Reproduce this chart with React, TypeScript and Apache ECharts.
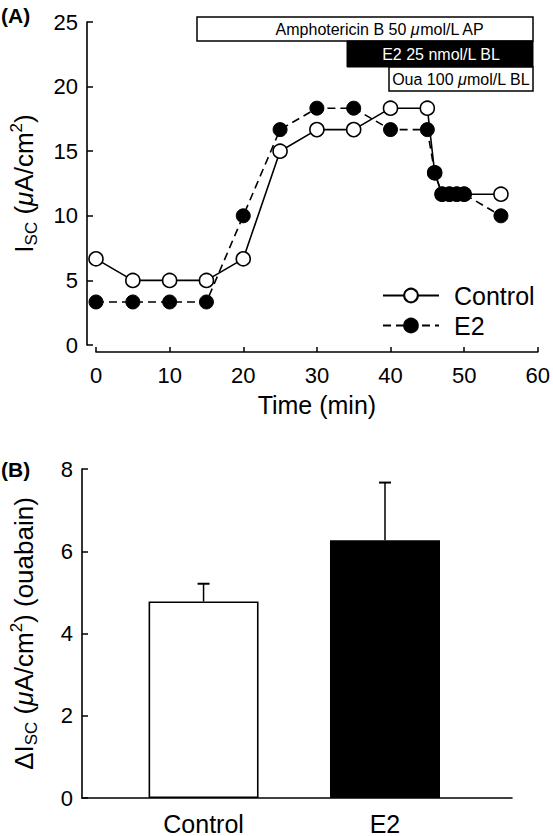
import React, { useEffect, useRef } from 'react';
import * as echarts from 'echarts';

// Panel A: time course of Isc
const timeMin = [0, 5, 10, 15, 20, 25, 30, 35, 40, 45, 46, 47, 48, 49, 50, 55];
const controlIsc = [6.67, 5, 5, 5, 6.67, 15, 16.67, 16.67, 18.33, 18.33, 13.33, 11.67, 11.67, 11.67, 11.67, 11.67];
const e2Isc = [3.33, 3.33, 3.33, 3.33, 10, 16.67, 18.33, 18.33, 16.67, 16.67, 13.33, 11.67, 11.67, 11.67, 11.67, 10];
const timeTicks = [0, 60, 10];
const iscTicks = [0, 25, 5];

// Panel B: ouabain-sensitive delta Isc
const groups = ['Control', 'E2'];
const groupPos = [0, 1];
const deltaIsc = [4.78, 6.27];
const deltaSem = [0.43, 1.4];
const deltaTicks = [0, 8, 2];

const FONT = '"Liberation Sans", Arial, Helvetica, sans-serif';

export default function App() {
  const ref = useRef<HTMLDivElement>(null);
  useEffect(() => {
    if (!ref.current) return;
    const chart = echarts.init(ref.current, undefined, { renderer: 'svg' });
    const axisLine = { show: true, onZero: false, lineStyle: { color: '#000', width: 1.6 } };
    const nameRich = {
      t: { fontSize: 26, fontFamily: FONT, color: '#000', lineHeight: 32 },
      mu: { fontSize: 26, fontFamily: FONT, color: '#000', fontStyle: 'italic', lineHeight: 32 },
      sub: { fontSize: 17, fontFamily: FONT, color: '#000', verticalAlign: 'bottom', lineHeight: 17 },
      sup: { fontSize: 17, fontFamily: FONT, color: '#000', verticalAlign: 'top', lineHeight: 17 },
    };
    const boxText = (text: string, x: number, y: number, color: string) => ({
      type: 'text',
      x,
      y,
      style: {
        text,
        fill: color,
        fontSize: 16,
        fontFamily: FONT,
        align: 'center',
        verticalAlign: 'middle',
        textAlign: 'center',
        textVerticalAlign: 'middle',
        rich: {
          mu: { fontSize: 16, fontFamily: FONT, fontStyle: 'italic', fill: color, color },
        },
      },
      z: 10,
    });
    chart.setOption({
      animation: false,
      backgroundColor: '#fff',
      textStyle: { fontFamily: FONT, color: '#000' },
      grid: [
        { left: 89, right: 14, top: 22, height: 323 },
        { left: 80, right: 41, top: 469, height: 333 },
      ],
      legend: {
        data: ['Control', 'E2'],
        orient: 'vertical',
        left: 382,
        top: 283,
        padding: 0,
        itemWidth: 56,
        itemHeight: 17,
        itemGap: 5,
        textStyle: { fontSize: 25, fontFamily: FONT, color: '#000', padding: [0, 0, 0, 10] },
      },
      xAxis: [
        {
          type: 'value',
          gridIndex: 0,
          min: timeTicks[0],
          max: timeTicks[1],
          interval: timeTicks[2],
          offset: 7,
          axisLine,
          axisTick: { show: true, inside: true, length: 5, lineStyle: { color: '#000', width: 1.5 } },
          axisLabel: { fontSize: 22, margin: 12, color: '#000', fontFamily: FONT },
          splitLine: { show: false },
          name: 'Time (min)',
          nameLocation: 'middle',
          nameGap: 40,
          nameTextStyle: { fontSize: 25, fontFamily: FONT, color: '#000' },
        },
        {
          type: 'value',
          gridIndex: 1,
          min: -0.67,
          max: 1.7,
          axisLine,
          axisTick: { show: false },
          axisLabel: {
            customValues: groupPos,
            formatter: (v: number) => groups[Math.round(v)] ?? '',
            fontSize: 25,
            margin: 13,
            color: '#000',
            fontFamily: FONT,
          },
          splitLine: { show: false },
        },
      ],
      yAxis: [
        {
          type: 'value',
          gridIndex: 0,
          min: iscTicks[0],
          max: iscTicks[1],
          interval: iscTicks[2],
          offset: 9,
          axisLine,
          axisTick: { show: true, inside: true, length: 6, lineStyle: { color: '#000', width: 1.5 } },
          axisLabel: { fontSize: 22, margin: 9, color: '#000', fontFamily: FONT },
          splitLine: { show: false },
          name: '{t|I}{sub|SC}{t| (}{mu|μ}{t|A/cm}{sup|2}{t|)}',
          nameLocation: 'middle',
          nameGap: 47,
          nameTextStyle: { rich: nameRich },
        },
        {
          type: 'value',
          gridIndex: 1,
          min: deltaTicks[0],
          max: deltaTicks[1],
          interval: deltaTicks[2],
          axisLine,
          axisTick: { show: true, inside: true, length: 6, lineStyle: { color: '#000', width: 1.5 } },
          axisLabel: { fontSize: 22, margin: 9, color: '#000', fontFamily: FONT },
          splitLine: { show: false },
          name: '{t|ΔI}{sub|SC}{t| (}{mu|μ}{t|A/cm}{sup|2}{t|) (ouabain)}',
          nameLocation: 'middle',
          nameGap: 42,
          nameTextStyle: { rich: nameRich },
        },
      ],
      graphic: [
        { type: 'text', left: 1, top: 5, style: { text: '(A)', fontSize: 21, fontWeight: 'bold', fontFamily: FONT, fill: '#000' } },
        { type: 'text', left: 1, top: 459, style: { text: '(B)', fontSize: 21, fontWeight: 'bold', fontFamily: FONT, fill: '#000' } },
        { type: 'rect', shape: { x: 197, y: 17, width: 336, height: 24 }, style: { fill: '#fff', stroke: '#000', lineWidth: 1.5 }, z: 9 },
        { type: 'rect', shape: { x: 347, y: 41, width: 186, height: 26 }, style: { fill: '#000', stroke: '#000', lineWidth: 1 }, z: 9 },
        { type: 'rect', shape: { x: 389, y: 67, width: 144, height: 24 }, style: { fill: '#fff', stroke: '#000', lineWidth: 1.5 }, z: 9 },
        boxText('Amphotericin B 50 {mu|μ}mol/L AP', 380, 29, '#000'),
        boxText('E2 25 nmol/L BL', 441, 54, '#fff'),
        boxText('Oua 100 {mu|μ}mol/L BL', 461, 79, '#000'),
      ],
      series: [
        {
          name: 'Control',
          type: 'line',
          xAxisIndex: 0,
          yAxisIndex: 0,
          data: timeMin.map((t, i) => [t, controlIsc[i]]),
          symbol: 'circle',
          symbolSize: 14,
          lineStyle: { color: '#000', width: 1.6 },
          itemStyle: { color: '#fff', borderColor: '#000', borderWidth: 1.6 },
          z: 2,
        },
        {
          name: 'E2',
          type: 'line',
          xAxisIndex: 0,
          yAxisIndex: 0,
          data: timeMin.map((t, i) => [t, e2Isc[i]]),
          symbol: 'circle',
          symbolSize: 14,
          lineStyle: { color: '#000', width: 1.6, type: [8, 5] },
          itemStyle: { color: '#000', borderColor: '#000', borderWidth: 1 },
          z: 3,
        },
        {
          name: 'ΔIsc',
          type: 'bar',
          xAxisIndex: 1,
          yAxisIndex: 1,
          barWidth: 110,
          data: groupPos.map((p, i) => ({
            value: [p, deltaIsc[i]],
            itemStyle: i === 0
              ? { color: '#fff', borderColor: '#000', borderWidth: 1.6 }
              : { color: '#000', borderColor: '#000', borderWidth: 1.6 },
          })),
          z: 2,
        },
        {
          name: 'SEM',
          type: 'custom',
          xAxisIndex: 1,
          yAxisIndex: 1,
          data: groupPos.map((p, i) => [p, deltaIsc[i], deltaSem[i]]),
          renderItem: (params: any, api: any) => {
            const x = api.value(0);
            const y = api.value(1);
            const e = api.value(2);
            const base = api.coord([x, y]);
            const top = api.coord([x, y + e]);
            const cap = 6;
            return {
              type: 'group',
              children: [
                { type: 'line', shape: { x1: base[0], y1: base[1], x2: top[0], y2: top[1] }, style: { stroke: '#000', lineWidth: 1.5 } },
                { type: 'line', shape: { x1: top[0] - cap, y1: top[1], x2: top[0] + cap, y2: top[1] }, style: { stroke: '#000', lineWidth: 2 } },
              ],
            };
          },
          z: 4,
        },
      ],
    });
    return () => chart.dispose();
  }, []);
  return <div ref={ref} style={{ position: 'absolute', left: 0, top: 0, width: 553, height: 836, background: '#fff' }} />;
}
